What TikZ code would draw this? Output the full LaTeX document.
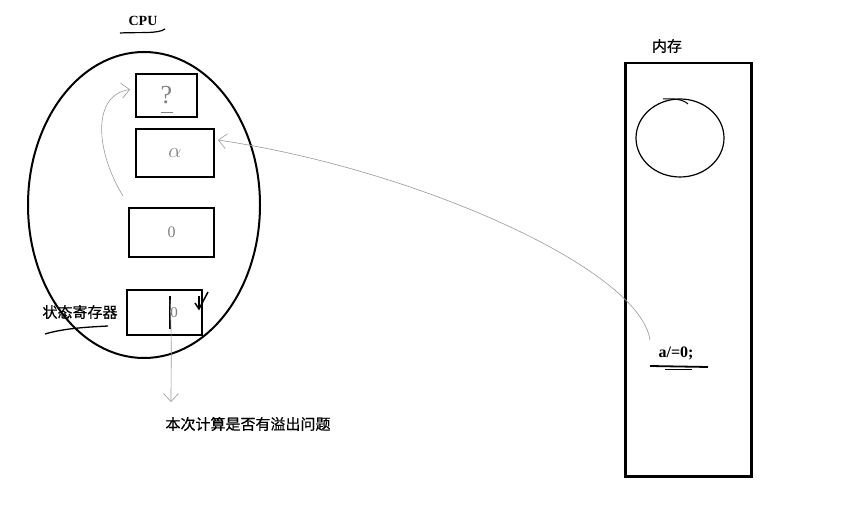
\documentclass[tikz,border=0pt]{standalone}
\usepackage{fontspec}
\setmainfont{Liberation Serif}
\newfontfamily\cjk[FakeBold=0.6]{Noto Sans CJK SC}
\usetikzlibrary{shapes.geometric,arrows.meta}
\begin{document}
\begin{tikzpicture}[x=1pt,y=-1pt,
  reg/.style={draw, line width=2pt, inner sep=0pt, anchor=north west, text=gray},
  hand/.style={draw=gray!80, line width=0.6pt},
  barb/.style={-{Straight Barb[length=8pt,width=15pt]}},
  cjklabel/.style={font=\cjk\fontsize{15}{15}\selectfont, inner sep=0pt},
  latin/.style={font=\bfseries\fontsize{14}{14}\selectfont, inner sep=0pt}]
\useasboundingbox[fill=white] (0,0) rectangle (843,510);

% CPU
\node[latin] (cputxt) at (143,21) {CPU};
\draw[line width=1.2pt] (120,33) .. controls (140,32) and (158,34) .. (165,29);
\node[draw, ellipse, line width=2pt, minimum width=232pt, minimum height=306pt, inner sep=0pt] (cpu) at (144,205) {};

% registers
\node[reg, minimum width=61pt, minimum height=43pt, font=\fontsize{26}{26}\selectfont] (q) at (135,73) {?};
\draw[gray, line width=0.6pt] ([xshift=-6pt,yshift=6pt]q.south) -- ([xshift=6pt,yshift=6pt]q.south);
\node[reg, minimum width=78pt, minimum height=48pt, font=\fontsize{20}{20}\selectfont] (ra) at (135,128) {$\alpha$};
\node[reg, minimum width=85pt, minimum height=49pt, font=\fontsize{16}{16}\selectfont] (rz) at (128,207) {0};
\node[reg, minimum width=75pt, minimum height=45pt] (st) at (126,289) {};
\node[text=gray, font=\fontsize{15}{15}\selectfont, inner sep=0pt] (stz) at (174,313) {0};
\draw[line width=2.5pt] (170,296) -- (170,329);
\draw[line width=1.5pt] (199,296) -- (199,309);
\draw[line width=1.5pt] (195,303) -- (199,309) -- (208,292);

% labels
\node[cjklabel] (stlabel) at (80,312) {状态寄存器};
\draw[line width=1.3pt] (45,334) .. controls (65,328) and (90,327) .. (108,326);
\coordinate (down) at (171,402);
\draw[hand, barb] (170,300) .. controls (172,340) and (171,370) .. (down);
\node[cjklabel] (ovf) at (248,424) {本次计算是否有溢出问题};

% curved arrow from register 0 to ?
\coordinate (s1) at (123,196);
\draw[hand, barb] (s1) .. controls (95,150) and (92,95) .. ([xshift=-5pt,yshift=6pt]q.west);

% memory
\node[cjklabel] (memtxt) at (667,46) {内存};
\node[draw, line width=2.5pt, anchor=north west, minimum width=126pt, minimum height=413pt, inner sep=0pt] (mem) at (624,62) {};
\node[draw, ellipse, line width=1.2pt, minimum width=88pt, minimum height=78pt, inner sep=0pt] (blob) at (680,138) {};
\draw[line width=1pt] (663,99) .. controls (675,98) and (684,100) .. (688,104);
\node[latin, font=\bfseries\fontsize{16}{16}\selectfont] (am) at (676,353) {a/=0;};
\draw[line width=1.8pt] (650,366) -- (708,367);
\draw[line width=0.8pt] (665,369) -- (692,369);
\coordinate (s2) at (650,340);
\draw[hand, barb] (s2) .. controls (640,270) and (420,170) .. ([xshift=3pt,yshift=13pt]ra.east);
\end{tikzpicture}
\end{document}
